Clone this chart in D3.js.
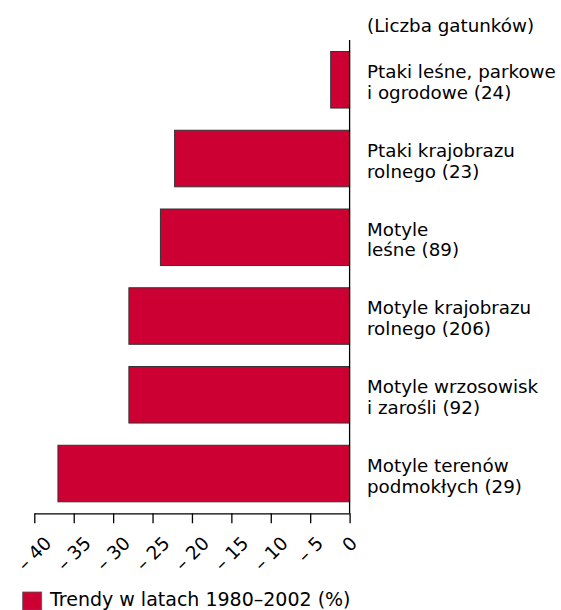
<!DOCTYPE html>
<html><head><meta charset="utf-8">
<script src="https://cdn.jsdelivr.net/npm/d3@7"></script>
<style>body{margin:0;background:#fff}svg{display:block}text{font-family:"DejaVu Sans",Verdana,sans-serif;fill:#000}</style>
</head><body>
<script>
const categories = [
  ["Ptaki leśne, parkowe", "i ogrodowe (24)"],
  ["Ptaki krajobrazu", "rolnego  (23)"],
  ["Motyle", "leśne (89)"],
  ["Motyle krajobrazu", "rolnego (206)"],
  ["Motyle wrzosowisk", "i zarośli (92)"],
  ["Motyle terenów", "podmokłych (29)"]
];
const values = [-2.4, -22.2, -24, -28, -28, -37];
const tickValues = [-40, -35, -30, -25, -20, -15, -10, -5, 0];
const tickLabels = ["– 40", "– 35", "– 30", "– 25", "– 20", "– 15", "– 10", "– 5", "0"];
const legendLabel = "Trendy w latach 1980–2002 (%)";
const headerLabel = "(Liczba gatunków)";

const W = 561, H = 610;
const svg = d3.select("body").append("svg").attr("width", W).attr("height", H);
const x = d3.scaleLinear().domain([-40, 0]).range([34.3, 349.6]);
const y = d3.scaleBand().domain(d3.range(categories.length)).range([40, 513.3]).paddingInner(0.282).paddingOuter(0.146);
const color = "#cc0033";

svg.append("g").selectAll("rect").data(values).join("rect")
  .attr("x", d => x(d)).attr("y", (d, i) => y(i))
  .attr("width", d => x(0) - x(d)).attr("height", y.bandwidth())
  .attr("fill", color).attr("stroke", "#333").attr("stroke-width", 1);

// zero line
svg.append("line").attr("x1", x(0)).attr("x2", x(0)).attr("y1", 40).attr("y2", 513.3)
  .attr("stroke", "#000").attr("stroke-width", 1.3);

const axis = d3.axisBottom(x).tickValues(tickValues).tickSize(10).tickSizeOuter(0)
  .tickFormat((d, i) => tickLabels[i]);
const g = svg.append("g").attr("transform", "translate(0,513.3)").call(axis);
g.select(".domain").attr("stroke", "#000").attr("stroke-width", 1.3);
g.selectAll(".tick line").attr("stroke", "#000").attr("stroke-width", 1.3);
g.selectAll(".tick text").attr("font-size", 18.5).attr("text-anchor", "middle")
  .attr("font-family", '"DejaVu Sans",Verdana,sans-serif')
  .attr("dy", "0.35em").attr("y", 0)
  .attr("transform", function () {
    const L = this.getComputedTextLength();
    const cy = 22 + (L + 13) * 0.3535;
    return `translate(-0.5,${cy}) rotate(-45)`;
  });

// category labels
const lab = svg.append("g");
categories.forEach((c, i) => {
  const cy = y(i) + y.bandwidth() / 2;
  const t = lab.append("text").attr("x", 367).attr("y", cy - 1.7).attr("font-size", 18.3);
  t.append("tspan").attr("x", 367).text(c[0]);
  t.append("tspan").attr("x", 367).attr("dy", 20.7).text(c[1]);
});
svg.append("text").attr("x", 367).attr("y", 32).attr("font-size", 18.3).text(headerLabel);

// legend
svg.append("rect").attr("x", 22.7).attr("y", 592).attr("width", 19).attr("height", 18)
  .attr("fill", color).attr("stroke", "#555").attr("stroke-width", 0.8);
svg.append("text").attr("x", 50).attr("y", 605.5).attr("font-size", 19).text(legendLabel);
</script>
</body></html>
